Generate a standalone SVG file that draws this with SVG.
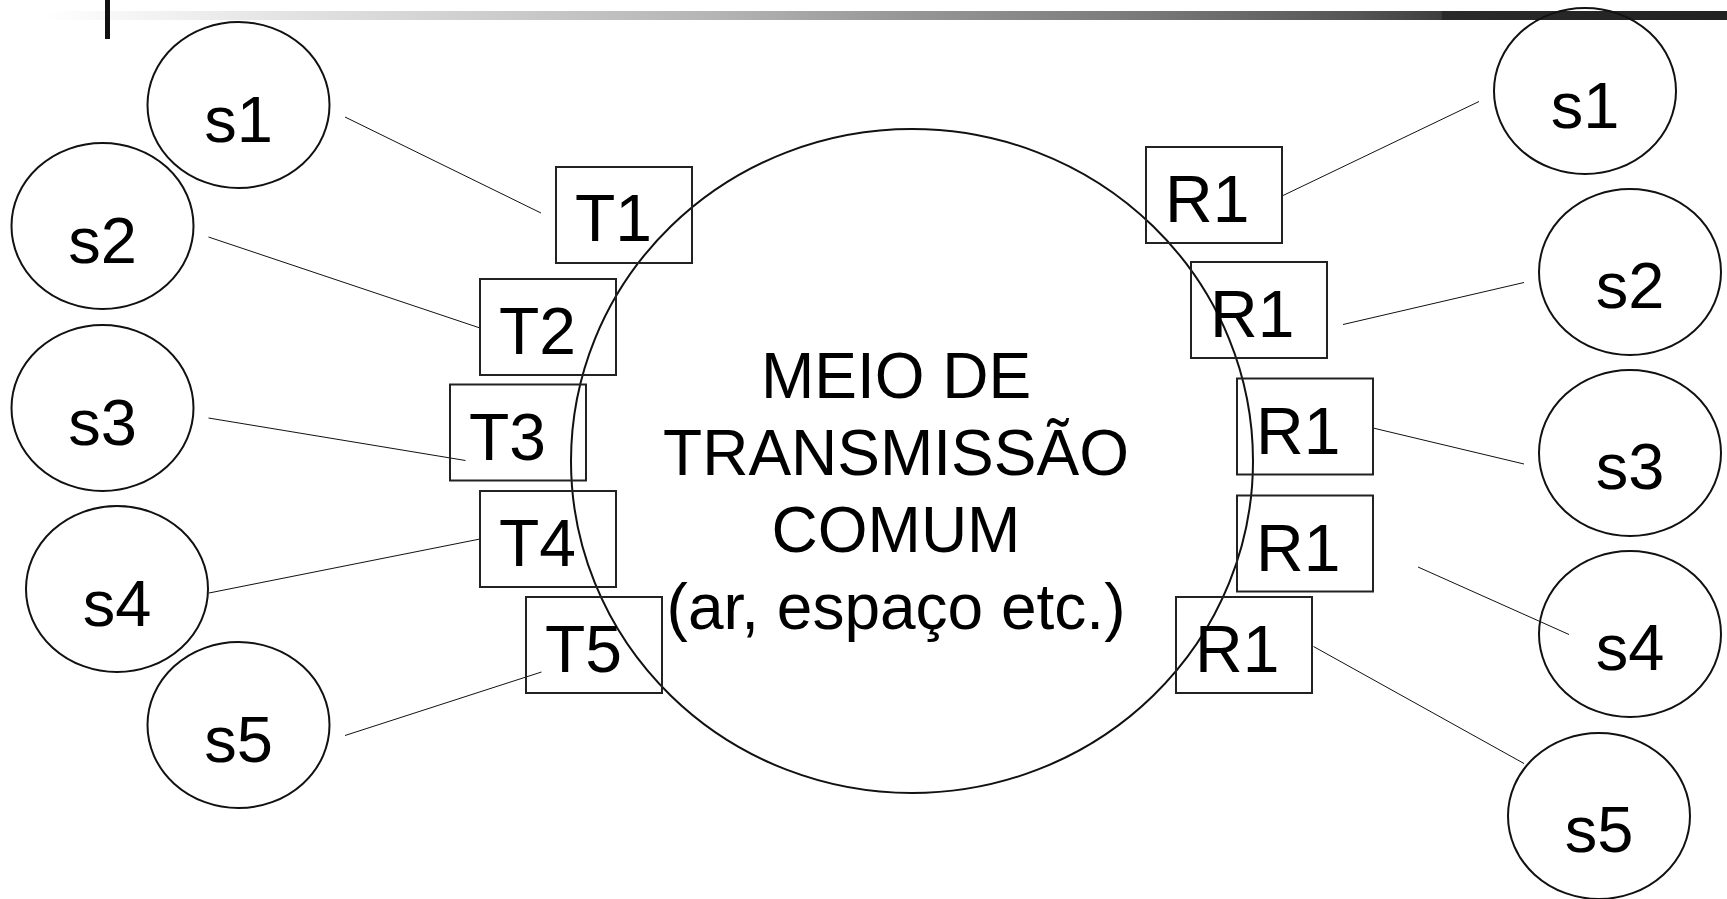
<svg xmlns="http://www.w3.org/2000/svg" width="1727" height="899" viewBox="0 0 1727 899">
<defs>
<linearGradient id="hdr" x1="44" y1="0" x2="1727" y2="0" gradientUnits="userSpaceOnUse">
<stop offset="0" stop-color="#ffffff"/>
<stop offset="0.15" stop-color="#e2e2e2"/>
<stop offset="0.4" stop-color="#b4b4b4"/>
<stop offset="0.5" stop-color="#999999"/>
<stop offset="0.65" stop-color="#7a7a7a"/>
<stop offset="0.78" stop-color="#555555"/>
<stop offset="0.83" stop-color="#3e3e3e"/>
<stop offset="0.831" stop-color="#2a2a2a"/>
<stop offset="1" stop-color="#222222"/>
</linearGradient>
<style>
.sh{fill:none;stroke:#111;stroke-width:2}
.bx{fill:none;stroke:#222;stroke-width:2}
.ln{stroke:#111;stroke-width:1;fill:none}
.lb{font-family:"Liberation Sans",Arial,Helvetica,sans-serif;font-size:65px;fill:#000}
.bl{font-family:"Liberation Sans",Arial,Helvetica,sans-serif;font-size:66px;fill:#000}
.ct{font-family:"Liberation Sans",Arial,Helvetica,sans-serif;font-size:64px;fill:#000;text-anchor:middle}
</style>
</defs>
<rect width="1727" height="899" fill="#fff"/>
<g id="header">
<rect x="44" y="11" width="1683" height="9" fill="url(#hdr)"/>
<rect x="105" y="0" width="5" height="39" fill="#111"/>
</g>
<g id="connectors">
<line class="ln" x1="345" y1="117" x2="541" y2="213"/>
<line class="ln" x1="208.5" y1="237" x2="480" y2="328"/>
<line class="ln" x1="208.5" y1="418" x2="465.5" y2="460.5"/>
<line class="ln" x1="209" y1="593" x2="480" y2="539"/>
<line class="ln" x1="345" y1="735.5" x2="541.5" y2="672"/>
<line class="ln" x1="1283" y1="195.5" x2="1479" y2="101.5"/>
<line class="ln" x1="1343" y1="324.5" x2="1524" y2="282.5"/>
<line class="ln" x1="1373" y1="428" x2="1524" y2="464"/>
<line class="ln" x1="1418" y1="567" x2="1569" y2="634.5"/>
<line class="ln" x1="1313.5" y1="646.5" x2="1524" y2="763.5"/>
</g>
<g id="medium">
<ellipse class="sh" cx="912" cy="461" rx="341" ry="332"/>
<text class="ct" x="896" y="398">MEIO DE</text>
<text class="ct" x="896" y="475">TRANSMISSÃO</text>
<text class="ct" x="896" y="552">COMUM</text>
<text class="ct" x="896" y="629">(ar, espaço etc.)</text>
</g>
<g id="src-s1"><ellipse class="sh" cx="238.5" cy="105" rx="91" ry="83"/><text class="lb" x="238.5" y="142" text-anchor="middle">s1</text></g>
<g id="src-s2"><ellipse class="sh" cx="102.5" cy="226" rx="91" ry="83"/><text class="lb" x="102.5" y="263" text-anchor="middle">s2</text></g>
<g id="src-s3"><ellipse class="sh" cx="102.5" cy="408" rx="91" ry="83"/><text class="lb" x="102.5" y="445" text-anchor="middle">s3</text></g>
<g id="src-s4"><ellipse class="sh" cx="117" cy="589" rx="91" ry="83"/><text class="lb" x="117" y="626" text-anchor="middle">s4</text></g>
<g id="src-s5"><ellipse class="sh" cx="238.5" cy="725" rx="91" ry="83"/><text class="lb" x="238.5" y="762" text-anchor="middle">s5</text></g>
<g id="tx-T1"><rect class="bx" x="556" y="167" width="136" height="96"/><text class="bl" x="575" y="241">T1</text></g>
<g id="tx-T2"><rect class="bx" x="480" y="279" width="136" height="96"/><text class="bl" x="499" y="354">T2</text></g>
<g id="tx-T3"><rect class="bx" x="450" y="384.5" width="136" height="96"/><text class="bl" x="469" y="459.5">T3</text></g>
<g id="tx-T4"><rect class="bx" x="480" y="491" width="136" height="96"/><text class="bl" x="499" y="566">T4</text></g>
<g id="tx-T5"><rect class="bx" x="526" y="597" width="136" height="96"/><text class="bl" x="545" y="672">T5</text></g>
<g id="rx-R1a"><rect class="bx" x="1146" y="147" width="136" height="96"/><text class="bl" x="1165" y="222">R1</text></g>
<g id="rx-R1b"><rect class="bx" x="1191" y="262" width="136" height="96"/><text class="bl" x="1210" y="337">R1</text></g>
<g id="rx-R1c"><rect class="bx" x="1237" y="378.5" width="136" height="96"/><text class="bl" x="1256" y="453.5">R1</text></g>
<g id="rx-R1d"><rect class="bx" x="1237" y="495.5" width="136" height="96"/><text class="bl" x="1256" y="570.5">R1</text></g>
<g id="rx-R1e"><rect class="bx" x="1176" y="597" width="136" height="96"/><text class="bl" x="1195" y="672">R1</text></g>
<g id="dst-s1"><ellipse class="sh" cx="1585" cy="91" rx="91" ry="83"/><text class="lb" x="1585" y="128" text-anchor="middle">s1</text></g>
<g id="dst-s2"><ellipse class="sh" cx="1630" cy="272" rx="91" ry="83"/><text class="lb" x="1630" y="308" text-anchor="middle">s2</text></g>
<g id="dst-s3"><ellipse class="sh" cx="1630" cy="453" rx="91" ry="83"/><text class="lb" x="1630" y="489" text-anchor="middle">s3</text></g>
<g id="dst-s4"><ellipse class="sh" cx="1630" cy="634" rx="91" ry="83"/><text class="lb" x="1630" y="670" text-anchor="middle">s4</text></g>
<g id="dst-s5"><ellipse class="sh" cx="1599" cy="816" rx="91" ry="83"/><text class="lb" x="1599" y="852" text-anchor="middle">s5</text></g>
</svg>
